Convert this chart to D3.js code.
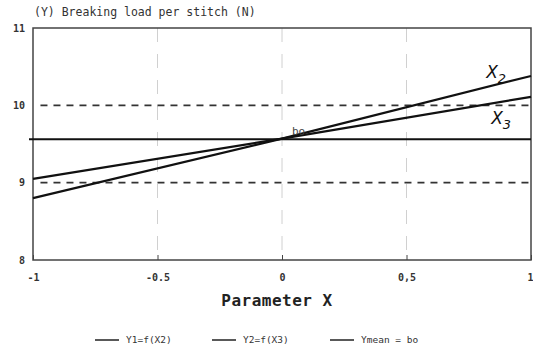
<!DOCTYPE html>
<html><head><meta charset="utf-8">
<script src="https://cdn.jsdelivr.net/npm/d3@7"></script>
<style>body{margin:0;background:#fff}svg{display:block}</style>
</head><body>
<script>
const xDomain = [-1, 1];
const yDomain = [8, 11];
const xTicks = [-1, -0.5, 0, 0.5, 1];
const xTickLabels = ["-1", "-0.5", "0", "0,5", "1"];
const yTicks = [8, 9, 10, 11];
const refLines = [9, 10];
const gridX = [-0.5, 0, 0.5];
// linear models read at X = -1, 0, 1
const seriesX2 = [[-1, 8.80], [0, 9.57], [1, 10.38]];
const seriesX3 = [[-1, 9.05], [0, 9.57], [1, 10.11]];
const meanY = 9.56;
const legendLabels = ["Y1=f(X2)", "Y2=f(X3)", "Ymean = bo"];

const W = 533, H = 360;
const m = {l: 33, r: 2, t: 28, b: 100};
const svg = d3.select("body").append("svg").attr("width", W).attr("height", H);
const x = d3.scaleLinear().domain(xDomain).range([m.l, W - m.r]);
const y = d3.scaleLinear().domain(yDomain).range([H - m.b, m.t]);
const font = "'DejaVu Sans Mono', monospace";

// vertical grid
svg.append("g").selectAll("line").data(gridX).join("line")
  .attr("x1", d => x(d)).attr("x2", d => x(d))
  .attr("y1", y(11)).attr("y2", y(8))
  .attr("stroke", "#d0d0d0").attr("stroke-width", 1).attr("stroke-dasharray", "14,12");

// reference dashed lines
svg.append("g").selectAll("line").data(refLines).join("line")
  .attr("x1", x(-0.97)).attr("x2", x(1))
  .attr("y1", d => y(d)).attr("y2", d => y(d))
  .attr("stroke", "#333").attr("stroke-width", 1.6).attr("stroke-dasharray", "7,6");

// frame
svg.append("rect").attr("x", x(-1)).attr("y", y(11))
  .attr("width", x(1) - x(-1)).attr("height", y(8) - y(11))
  .attr("fill", "none").attr("stroke", "#444").attr("stroke-width", 1.5);

// axes
const xAxis = d3.axisBottom(x).tickValues(xTicks).tickFormat((d, i) => xTickLabels[i]).tickSize(-5).tickPadding(14);
const gx = svg.append("g").attr("transform", `translate(0,${y(8)})`).call(xAxis);
gx.select(".domain").remove();
gx.selectAll("line").attr("stroke", "#444");
gx.selectAll("text").attr("font-family", font).attr("font-size", 10).attr("font-weight", "bold").attr("fill", "#333")
  .attr("text-anchor", (d, i) => i === xTicks.length - 1 ? "end" : "middle")
  .attr("dx", (d, i) => i === xTicks.length - 1 ? 2 : 0);

const yAxis = d3.axisLeft(y).tickValues(yTicks).tickFormat(d3.format("d")).tickSize(0).tickPadding(8);
const gy = svg.append("g").attr("transform", `translate(${x(-1)},0)`).call(yAxis);
gy.select(".domain").remove();
gy.selectAll("text").attr("font-family", font).attr("font-size", 10).attr("font-weight", "bold").attr("fill", "#333");

// lines
const line = d3.line().x(d => x(d[0])).y(d => y(d[1]));
svg.append("path").datum(seriesX2).attr("d", line).attr("fill", "none").attr("stroke", "#111").attr("stroke-width", 2.2);
svg.append("path").datum(seriesX3).attr("d", line).attr("fill", "none").attr("stroke", "#111").attr("stroke-width", 2.2);
svg.append("line").attr("x1", x(-1) - 4).attr("x2", x(1)).attr("y1", y(meanY)).attr("y2", y(meanY))
  .attr("stroke", "#111").attr("stroke-width", 2);

// annotations
svg.append("text").attr("x", x(0.82)).attr("y", y(10.35)).attr("font-family", "'DejaVu Sans'").attr("font-style", "italic")
  .attr("font-size", 17).attr("fill", "#111").text("X").append("tspan").attr("dy", 5).attr("font-size", 13).text("2");
svg.append("text").attr("x", x(0.84)).attr("y", y(9.76)).attr("font-family", "'DejaVu Sans'").attr("font-style", "italic")
  .attr("font-size", 17).attr("fill", "#111").text("X").append("tspan").attr("dy", 5).attr("font-size", 13).text("3");
svg.append("text").attr("x", x(0.04)).attr("y", y(9.62)).attr("font-family", font)
  .attr("font-size", 11).attr("fill", "#444").text("bo");

// titles
svg.append("text").attr("x", x(-1) + 1).attr("y", 16).attr("font-family", font).attr("font-size", 11.5)
  .attr("fill", "#333").text("(Y) Breaking load per stitch (N)");
svg.append("text").attr("x", x(-0.02)).attr("y", 306).attr("text-anchor", "middle").attr("font-family", font)
  .attr("font-weight", "bold").attr("font-size", 16).attr("letter-spacing", 0.5).attr("fill", "#222").text("Parameter X");

// legend
const lg = svg.append("g").attr("font-family", font).attr("font-size", 9.5).attr("fill", "#333");
const lx = [95, 212, 330];
legendLabels.forEach((t, i) => {
  lg.append("line").attr("x1", lx[i]).attr("x2", lx[i] + 24).attr("y1", 340).attr("y2", 340)
    .attr("stroke", "#222").attr("stroke-width", 1.5);
  lg.append("text").attr("x", lx[i] + 31).attr("y", 343).text(t);
});
</script>
</body></html>
